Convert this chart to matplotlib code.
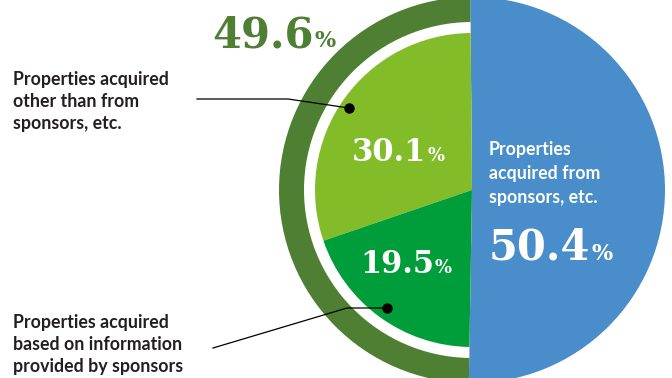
import matplotlib
matplotlib.use("Agg")
import matplotlib.pyplot as plt
from matplotlib.patches import Wedge

# Shares of acquired properties (% of total)
sponsor_share = 50.4
inner_labels = ["Properties acquired other than from sponsors, etc.",
                "Properties acquired based on information provided by sponsors"]
inner_values = [30.1, 19.5]
non_sponsor_share = 49.6

BLUE = "#4a8dcb"
DK_GREEN = "#4e7f33"
LT_GREEN = "#82bd29"
GREEN = "#009e3a"
TEXT = "#231f20"

W, H = 672, 378
fig = plt.figure(figsize=(W / 100, H / 100), dpi=100)
ax = fig.add_axes([0, 0, 1, 1])

cx, cy = 472, 188
R_OUT = 193
R_RING_IN = 168
R_IN = 157
START = 90.5

# Outer pie: blue half and dark green ring half
outer_wedges, _ = ax.pie([sponsor_share, non_sponsor_share], radius=R_OUT, center=(cx, cy),
                         startangle=START, counterclock=False, colors=[BLUE, DK_GREEN],
                         wedgeprops=dict(linewidth=0))
g = outer_wedges[1]
ax.add_patch(Wedge((cx, cy), R_RING_IN, min(g.theta1, g.theta2), max(g.theta1, g.theta2),
                   facecolor="white", linewidth=0))

# Inner split of the non-sponsor share, on the same scale as the whole
ax.pie(inner_values + [sponsor_share], radius=R_IN, center=(cx, cy),
       startangle=START, counterclock=True,
       colors=[LT_GREEN, GREEN, "none"], wedgeprops=dict(linewidth=0))

ax.set_xlim(0, W)
ax.set_ylim(0, H)
ax.set_aspect("equal")
ax.axis("off")

fig.canvas.draw()
renderer = fig.canvas.get_renderer()


def yv(py):
    return H - py


def pct_label(x, y_base, value, color, size, pct_size):
    t = ax.text(x, yv(y_base), f"{value:.1f}", color=color, fontsize=size,
                fontfamily="DejaVu Serif", fontweight="bold", ha="left", va="baseline")
    bb = t.get_window_extent(renderer=renderer)
    x_end = ax.transData.inverted().transform((bb.x1, bb.y0))[0]
    ax.text(x_end + 1, yv(y_base), "%", color=color, fontsize=pct_size,
            fontfamily="DejaVu Serif", fontweight="bold", ha="left", va="baseline")


pct_label(212, 47, non_sponsor_share, DK_GREEN, 30, 16)
pct_label(489, 260, sponsor_share, "white", 30, 16)
pct_label(352, 161, inner_values[0], "white", 22, 13)
pct_label(360, 273, inner_values[1], "white", 22, 13)


def block(x, baselines, lines, color):
    for b, s in zip(baselines, lines):
        ax.text(x, yv(b), s, color=color, fontsize=12.8, fontfamily="Lato",
                fontweight="bold", ha="left", va="baseline")


block(13, [85, 107, 129], ["Properties acquired", "other than from", "sponsors, etc."], TEXT)
block(13, [328, 350, 372], ["Properties acquired", "based on information",
                            "provided by sponsors"], TEXT)
block(489, [155, 179, 203], ["Properties", "acquired from", "sponsors, etc."], "white")

# Leader lines with dots
ax.plot([197, 288, 349], [yv(99), yv(99), yv(108)], color="black", lw=0.9)
ax.plot([349], [yv(108)], "o", color="black", ms=6.5)
ax.plot([213, 347, 387], [yv(348), yv(308), yv(308)], color="black", lw=0.9)
ax.plot([387], [yv(308)], "o", color="black", ms=6.5)

fig.savefig("out.png", dpi=100)
